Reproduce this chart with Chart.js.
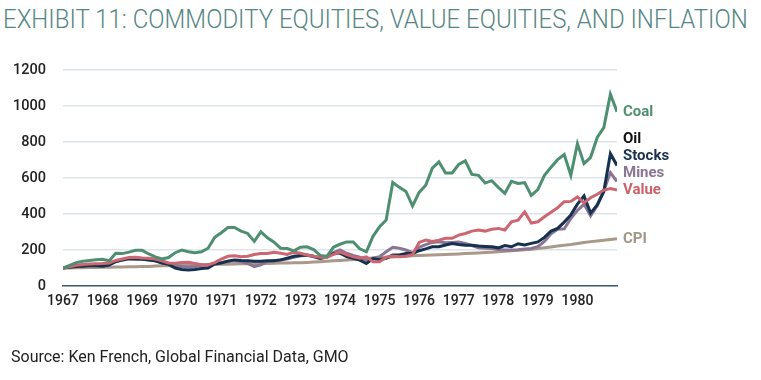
<!DOCTYPE html>
<html>
<head>
<meta charset="utf-8">
<script src="https://cdn.jsdelivr.net/npm/chart.js@4.4.1/dist/chart.umd.min.js"></script>
<style>
  html, body { margin: 0; padding: 0; background: #fff; }
  body { width: 761px; height: 380px; position: relative; overflow: hidden; font-family: Roboto, sans-serif; }
  #title { position: absolute; left: 3px; top: 4px; font-weight: 300; font-size: 26px; color: #558683; white-space: nowrap; transform-origin: 0 0; }
  #source { position: absolute; left: 11px; top: 347px; font-size: 16px; color: #222; }
  #wrap { position: absolute; left: 0; top: 0; width: 761px; height: 380px; }
</style>
</head>
<body>
<div id="title">EXHIBIT 11: COMMODITY EQUITIES, VALUE EQUITIES, AND INFLATION</div>
<div id="wrap"><canvas id="chart"></canvas></div>
<div id="source">Source: Ken French, Global Financial Data, GMO</div>
<script>
// bi-monthly observations, Jan 1967 .. Jan 1981 (index, start = 100)
const dates = Array.from({ length: 85 }, (_, i) => 1967 + i / 6)
const yearTicks = [1967, 1968, 1969, 1970, 1971, 1972, 1973, 1974, 1975, 1976, 1977, 1978, 1979, 1980]

const coal = [
  100, 115, 130, 138, 142, 146,
  148, 140, 182, 180, 188, 198,
  198, 178, 162, 150, 158, 185,
  200, 190, 185, 190, 210, 270,
  296, 325, 325, 305, 292, 248,
  301, 268, 243, 210, 208, 195,
  215, 218, 202, 170, 165, 215,
  232, 245, 245, 207, 190, 276,
  329, 366, 575, 548, 525, 445,
  520, 560, 655, 690, 628, 628,
  675, 695, 620, 615, 572, 585,
  548, 515, 582, 570, 574, 503,
  535, 615, 660, 702, 730, 615,
  790, 680, 715, 825, 880, 1065,
  968
]
const stocks = [
  100, 104, 108, 110, 112, 112,
  110, 116, 136, 144, 152, 150,
  148, 144, 140, 128, 120, 100,
  92, 89, 92, 97, 100, 122,
  128, 138, 145, 142, 140, 137,
  137, 140, 140, 145, 155, 165,
  170, 172, 165, 155, 163, 180,
  183, 163, 154, 144, 125, 152,
  146, 154, 172, 172, 181, 181,
  196, 206, 218, 218, 228, 236,
  230, 227, 227, 222, 220, 218,
  212, 225, 218, 235, 228, 237,
  245, 270, 305, 320, 355, 395,
  455, 500, 405, 450, 525, 735,
  670
]
const mines = [
  100, 106, 112, 116, 118, 118,
  118, 120, 135, 145, 150, 152,
  150, 146, 140, 130, 125, 112,
  108, 105, 108, 115, 115, 125,
  130, 138, 140, 135, 125, 108,
  118, 135, 140, 145, 150, 160,
  168, 170, 162, 152, 160, 185,
  200, 182, 170, 160, 144, 154,
  163, 190, 215, 210, 200, 185,
  215, 230, 242, 246, 240, 242,
  244, 237, 225, 212, 210, 208,
  203, 200, 200, 202, 205, 208,
  218, 248, 290, 315, 318, 375,
  420, 455, 390, 445, 530, 630,
  580
]
const value = [
  100, 107, 115, 120, 122, 124,
  125, 128, 142, 150, 158, 160,
  156, 154, 150, 140, 128, 126,
  130, 132, 125, 118, 117, 130,
  150, 165, 168, 163, 165, 175,
  181, 181, 188, 182, 175, 188,
  182, 172, 165, 160, 158, 175,
  188, 175, 162, 154, 162, 135,
  135, 160, 166, 163, 165, 175,
  242, 255, 248, 255, 265, 265,
  283, 292, 305, 311, 305, 315,
  320, 311, 357, 366, 412, 350,
  357, 385, 410, 435, 468, 470,
  495, 462, 490, 510, 533, 542,
  533
]
const cpi = [
  100, 100.5, 101, 101.8, 102.5, 103,
  103.6, 104.5, 105.3, 106, 107, 107.5,
  108, 109, 110.5, 112, 113, 114,
  115, 116, 117, 118, 119.5, 120.5,
  121, 121.5, 122.5, 123.5, 124, 124.5,
  125, 125.5, 126.5, 127.5, 128, 129,
  129.5, 131, 133, 135, 137.5, 140,
  141.6, 144, 147, 150, 153, 156,
  158, 159.5, 161.5, 163.5, 165.5, 167.5,
  169, 170.5, 172, 173.5, 175, 176.5,
  178, 180, 182, 184, 186, 188,
  190, 192.5, 195.5, 198.5, 201.5, 204.5,
  207.6, 212, 217, 222, 226.5, 231,
  236.5, 242, 246.5, 250, 254, 258,
  262
]

// end-of-line labels (oil line sits under the stocks line)
const labelNames = ['CPI', 'Value', 'Mines', 'Stocks', 'Oil', 'Coal']
const labelColors = ['#a39585', '#c9606a', '#8a7595', '#1a3150', '#111111', '#4e8f71']
const labelSeries = [cpi, value, mines, stocks, stocks, coal]

const pts = arr => arr.map((v, i) => ({ x: dates[i], y: v }))

const endLabels = {
  id: 'endLabels',
  afterDatasetsDraw(chart) {
    const { ctx, chartArea, scales } = chart
    const items = labelNames.map((t, i) => ({
      t, c: labelColors[i],
      py: scales.y.getPixelForValue(labelSeries[i][labelSeries[i].length - 1])
    }))
    items.sort((a, b) => b.py - a.py)
    for (let i = 1; i < items.length; i++) {
      items[i].py = Math.min(items[i].py, items[i - 1].py - 17)
    }
    ctx.save()
    ctx.font = 'bold 15px Roboto'
    ctx.textBaseline = 'middle'
    items.forEach(it => {
      ctx.fillStyle = it.c
      ctx.fillText(it.t, chartArea.right + 6, it.py)
    })
    ctx.restore()
  }
}

const line = (label, data, color) => ({
  label, data: pts(data), borderColor: color, borderWidth: 3,
  pointRadius: 0, tension: 0, fill: false
})

new Chart(document.getElementById('chart'), {
  type: 'line',
  data: {
    datasets: [
      line('Coal', coal, '#4e8f71'),
      line('Value', value, '#cc6670'),
      line('Stocks', stocks, '#15314f'),
      line('Mines', mines, '#8a7595'),
      line('CPI', cpi, '#a8998a')
    ]
  },
  options: {
    responsive: true,
    maintainAspectRatio: false,
    animation: false,
    layout: { padding: { top: 70, right: 144, bottom: 54, left: 0 } },
    plugins: { legend: { display: false }, tooltip: { enabled: false } },
    scales: {
      x: {
        type: 'linear', min: 1967, max: 1981,
        afterBuildTicks: s => { s.ticks = yearTicks.map(v => ({ value: v })) },
        afterFit: s => { s.height = 40 },
        grid: { display: false, drawTicks: false },
        border: { display: true, color: '#3d5a78', width: 1.5 },
        ticks: {
          padding: 7, color: '#222', autoSkip: false, maxRotation: 0,
          font: { family: 'Roboto', size: 14, weight: '500' },
          callback: v => String(v)
        }
      },
      y: {
        min: 0, max: 1200,
        afterFit: s => { s.width = 63 },
        grid: { color: '#dde5eb', lineWidth: 1.5, drawTicks: false },
        border: { display: false },
        ticks: {
          stepSize: 200, padding: 17, color: '#222',
          font: { family: 'Roboto', size: 14.5, weight: '500' },
          callback: v => String(v)
        }
      }
    }
  },
  plugins: [endLabels]
})

const title = document.getElementById('title')
title.style.transform = 'scaleX(' + (745 / title.offsetWidth) + ')'
</script>
</body>
</html>
